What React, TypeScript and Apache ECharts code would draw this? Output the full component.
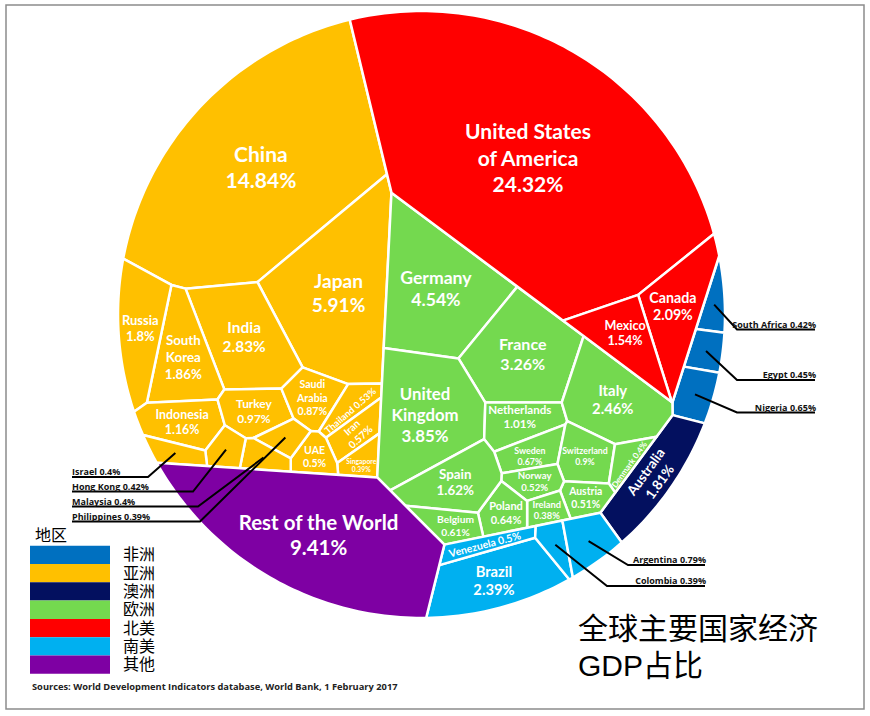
import React, { useEffect, useRef } from 'react';
import * as echarts from 'echarts';

type Pt = [number, number];

// ---------------- data ----------------
const REGION_NAMES = ['非洲', '亚洲', '澳洲', '欧洲', '北美', '南美', '其他'];
const REGION_COLORS = ['#0070C0', '#FFC000', '#03105F', '#74D94F', '#FF0000', '#00B0F0', '#7E00A3'];

const AFRICA_COUNTRIES = ['South Africa', 'Egypt', 'Nigeria'];
const AFRICA_GDP = [0.42, 0.45, 0.65];

const ASIA_COUNTRIES = ['China', 'Japan', 'India', 'South\nKorea', 'Russia', 'Indonesia', 'Turkey', 'Saudi\nArabia',
  'Thailand', 'Iran', 'Singapore', 'UAE', 'Philippines', 'Malaysia', 'Hong Kong', 'Israel'];
const ASIA_GDP = [14.84, 5.91, 2.83, 1.86, 1.8, 1.16, 0.97, 0.87, 0.53, 0.57, 0.39, 0.5, 0.39, 0.4, 0.42, 0.4];

const OCEANIA_COUNTRIES = ['Australia'];
const OCEANIA_GDP = [1.81];

const EUROPE_COUNTRIES = ['Germany', 'France', 'United\nKingdom', 'Netherlands', 'Italy', 'Sweden', 'Switzerland',
  'Denmark', 'Austria', 'Norway', 'Ireland', 'Poland', 'Spain', 'Belgium'];
const EUROPE_GDP = [4.54, 3.26, 3.85, 1.01, 2.46, 0.67, 0.9, 0.4, 0.51, 0.52, 0.38, 0.64, 1.62, 0.61];

const NORTH_AMERICA_COUNTRIES = ['United States\nof America', 'Canada', 'Mexico'];
const NORTH_AMERICA_GDP = [24.32, 2.09, 1.54];

const SOUTH_AMERICA_COUNTRIES = ['Brazil', 'Venezuela', 'Colombia', 'Argentina'];
const SOUTH_AMERICA_GDP = [2.39, 0.5, 0.39, 0.79];

const OTHER_COUNTRIES = ['Rest of the World'];
const OTHER_GDP = [9.41];

const REGION_COUNTRIES = [AFRICA_COUNTRIES, ASIA_COUNTRIES, OCEANIA_COUNTRIES, EUROPE_COUNTRIES,
  NORTH_AMERICA_COUNTRIES, SOUTH_AMERICA_COUNTRIES, OTHER_COUNTRIES];
const REGION_GDP = [AFRICA_GDP, ASIA_GDP, OCEANIA_GDP, EUROPE_GDP, NORTH_AMERICA_GDP, SOUTH_AMERICA_GDP, OTHER_GDP];

const SOURCE_TEXT = 'Sources: World Development Indicators database, World Bank, 1 February 2017';
const TITLE_TEXT = '全球主要国家经济\nGDP占比';
const LEGEND_TITLE = '地区';

// ---------------- layout hints (generators of the power diagram, page pixels) ----------------
const REGION_SITES: Pt[] = [[666, 297], [200, 290], [623, 465], [400, 300], [453, 229], [458, 583], [185, 515]];
const COUNTRY_SITES: Pt[][] = [
  [[712, 300], [705, 355], [698, 395]],
  [[240, 170], [340, 290], [255, 335], [190, 360], [142, 350], [193, 423], [256, 405], [305, 385],
    [342, 408], [358, 430], [372, 450], [300, 456], [270, 434], [258, 456], [228, 450], [185, 455]],
  [[650, 480]],
  [[437, 296], [515, 360], [420, 418], [515, 421], [612, 392], [525, 447], [580, 458],
    [625, 465], [578, 498], [530, 477], [541, 512], [503, 512], [450, 473], [445, 525]],
  [[545, 150], [680, 318], [610, 340]],
  [[500, 590], [486, 541], [555, 545], [593, 538]],
  [[320, 540]],
];

const CALLOUTS = [
  { name: 'Israel', side: 'left', x1: 72, x2: 148, y: 477 },
  { name: 'Hong Kong', side: 'left', x1: 72, x2: 193, y: 491.5 },
  { name: 'Malaysia', side: 'left', x1: 72, x2: 198, y: 506.5 },
  { name: 'Philippines', side: 'left', x1: 72, x2: 200, y: 521.5 },
  { name: 'South Africa', side: 'right', x1: 737, x2: 815, y: 329.5 },
  { name: 'Egypt', side: 'right', x1: 737, x2: 815, y: 380 },
  { name: 'Nigeria', side: 'right', x1: 737, x2: 815, y: 412.5 },
  { name: 'Argentina', side: 'right', x1: 628, x2: 705, y: 565 },
  { name: 'Colombia', side: 'right', x1: 607, x2: 705, y: 586 },
];
const CALLOUT_NAMES = CALLOUTS.map((c) => c.name);

// circle frame of the diagram in page pixels
const CX = 421.5, CY = 314.5, RAD = 303.5;
const toUnit = (p: Pt): Pt => [(p[0] - CX) / RAD, (CY - p[1]) / RAD];

const LABEL_FONT = 'Lato';
const CJK_FONT = "'Liberation Sans', 'Noto Sans CJK SC'";
const LH = 1.25;

// ---------------- power diagram ----------------
function clip(poly: Pt[], a: number, b: number, c: number): Pt[] {
  const out: Pt[] = [];
  const n = poly.length;
  for (let i = 0; i < n; i++) {
    const P = poly[i], Q = poly[(i + 1) % n];
    const fp = a * P[0] + b * P[1] - c, fq = a * Q[0] + b * Q[1] - c;
    if (fp <= 0) out.push(P);
    if ((fp <= 0) !== (fq <= 0)) {
      const t = fp / (fp - fq);
      out.push([P[0] + t * (Q[0] - P[0]), P[1] + t * (Q[1] - P[1])]);
    }
  }
  return out;
}
function signedArea(poly: number[][]) {
  let s = 0;
  for (let i = 0; i < poly.length; i++) {
    const P = poly[i], Q = poly[(i + 1) % poly.length];
    s += P[0] * Q[1] - Q[0] * P[1];
  }
  return s / 2;
}
const area = (poly: number[][]) => Math.abs(signedArea(poly));
function centroid(poly: number[][]) {
  let s = 0, cx = 0, cy = 0;
  for (let i = 0; i < poly.length; i++) {
    const P = poly[i], Q = poly[(i + 1) % poly.length];
    const cr = P[0] * Q[1] - Q[0] * P[1];
    s += cr; cx += (P[0] + Q[0]) * cr; cy += (P[1] + Q[1]) * cr;
  }
  if (Math.abs(s) < 1e-12) return poly.length ? [poly[0][0], poly[0][1]] : [0, 0];
  return [cx / (3 * s), cy / (3 * s)];
}
function cellsFor(sites: Pt[], w: number[], parent: Pt[]) {
  const n = sites.length;
  const out: Pt[][] = [];
  for (let i = 0; i < n; i++) {
    let poly = parent;
    const [xi, yi] = sites[i];
    const si = xi * xi + yi * yi;
    for (let j = 0; j < n && poly.length; j++) {
      if (j === i) continue;
      const [xj, yj] = sites[j];
      poly = clip(poly, 2 * (xj - xi), 2 * (yj - yi), xj * xj + yj * yj - si - w[j] + w[i]);
    }
    out.push(poly);
  }
  return out;
}
function hDiag(i: number, poly: Pt[], sites: Pt[], w: number[]) {
  let h = 0;
  const [xi, yi] = sites[i];
  const si = xi * xi + yi * yi;
  for (let j = 0; j < sites.length; j++) {
    if (j === i) continue;
    const [xj, yj] = sites[j];
    const a = 2 * (xj - xi), b = 2 * (yj - yi), c = xj * xj + yj * yj - si - w[j] + w[i];
    const nn = Math.hypot(a, b);
    if (nn < 1e-12) continue;
    for (let k = 0; k < poly.length; k++) {
      const P = poly[k], Q = poly[(k + 1) % poly.length];
      if (Math.abs(a * P[0] + b * P[1] - c) / nn < 1e-8 && Math.abs(a * Q[0] + b * Q[1] - c) / nn < 1e-8) {
        h += Math.hypot(Q[0] - P[0], Q[1] - P[1]) / nn;
      }
    }
  }
  return h;
}
function solvePower(sites: Pt[], values: number[], parent: Pt[], maxIter = 3000): Pt[][] {
  const n = sites.length;
  if (n === 1) return [parent];
  const tot = area(parent);
  const vs = values.reduce((a, b) => a + b, 0);
  const T = values.map((v) => (v / vs) * tot);
  const w = new Array(n).fill(0);
  let damp = 0.5;
  let prevErr = Infinity;
  let cells = cellsFor(sites, w, parent);
  for (let it = 0; it < maxIter; it++) {
    let errSum = 0, maxRel = 0;
    const upd = new Array(n).fill(0);
    for (let i = 0; i < n; i++) {
      const A = cells[i].length >= 3 ? area(cells[i]) : 0;
      const err = T[i] - A;
      errSum += Math.abs(err);
      maxRel = Math.max(maxRel, Math.abs(err) / T[i]);
      const h = cells[i].length >= 3 ? hDiag(i, cells[i], sites, w) : 0;
      upd[i] = h > 1e-9 ? err / h : 0.02;
    }
    if (maxRel < 0.002) break;
    if (errSum > prevErr) damp = Math.max(0.05, damp * 0.7);
    else damp = Math.min(0.8, damp * 1.05);
    prevErr = errSum;
    for (let i = 0; i < n; i++) w[i] += (cells[i].length >= 3 ? damp : 1) * upd[i];
    cells = cellsFor(sites, w, parent);
  }
  return cells;
}

function buildLayout() {
  const circle: Pt[] = [];
  const N = 360;
  for (let k = 0; k < N; k++) circle.push([Math.cos((2 * Math.PI * k) / N), Math.sin((2 * Math.PI * k) / N)]);
  const totals = REGION_GDP.map((a) => a.reduce((s, v) => s + v, 0));
  const regionCells = solvePower(REGION_SITES.map(toUnit), totals, circle);
  return REGION_GDP.map((vals, r) => {
    const polys = solvePower(COUNTRY_SITES[r].map(toUnit), vals, regionCells[r]);
    return polys.map((poly) => ({ poly, c: centroid(poly) }));
  });
}

// ---------------- label helpers ----------------
const CW: Record<string, number> = {
  a: 0.51, b: 0.56, c: 0.46, d: 0.56, e: 0.52, f: 0.33, g: 0.5, h: 0.56, i: 0.25, j: 0.25, k: 0.52, l: 0.25,
  m: 0.84, n: 0.56, o: 0.56, p: 0.56, q: 0.56, r: 0.38, s: 0.42, t: 0.36, u: 0.56, v: 0.5, w: 0.76, x: 0.5,
  y: 0.5, z: 0.45, ' ': 0.2, '.': 0.24, '%': 0.82,
};
function emWidth(s: string) {
  let w = 0;
  for (const ch of s) {
    if (CW[ch] !== undefined) w += CW[ch];
    else if (/[0-9]/.test(ch)) w += 0.58;
    else if (ch === 'M' || ch === 'W') w += 0.86;
    else if (ch === 'I') w += 0.3;
    else if (/[A-Z]/.test(ch)) w += 0.66;
    else w += 0.55;
  }
  return w * 1.03;
}
function edgesOf(pts: number[][], sgn: number) {
  const out: number[][] = [];
  for (let k = 0; k < pts.length; k++) {
    const P = pts[k], Q = pts[(k + 1) % pts.length];
    const ex = Q[0] - P[0], ey = Q[1] - P[1];
    const len = Math.hypot(ex, ey);
    if (len < 1e-6) continue;
    const nx = (-ey / len) * sgn, ny = (ex / len) * sgn;
    out.push([nx, ny, nx * P[0] + ny * P[1]]);
  }
  return out;
}
function minDist(p: number[], edges: number[][]) {
  let m = Infinity;
  for (const e of edges) m = Math.min(m, e[0] * p[0] + e[1] * p[1] - e[2]);
  return m;
}
function boxFits(c: number[], ang: number, hw: number, hh: number, edges: number[][]) {
  const ca = Math.cos(ang), sa = Math.sin(ang);
  for (const [sx, sy] of [[-1, -1], [1, -1], [1, 1], [-1, 1]]) {
    const p = [c[0] + ca * sx * hw - sa * sy * hh, c[1] + sa * sx * hw + ca * sy * hh];
    if (minDist(p, edges) < 0.3) return false;
  }
  return true;
}
function maxFont(c: number[], ang: number, lines: string[], base: number, edges: number[][]) {
  const wEm = Math.max(...lines.map(emWidth));
  const hEm = LH * (lines.length - 1) + 0.95;
  const ok = (f: number) => boxFits(c, ang, (f * wEm) / 2, (f * hEm) / 2, edges);
  if (ok(base)) return base;
  let lo = 4, hi = base;
  if (!ok(lo)) return 0;
  for (let it = 0; it < 10; it++) {
    const m = (lo + hi) / 2;
    if (ok(m)) lo = m; else hi = m;
  }
  return lo;
}
function cellLabel(pts: number[][], name: string, value: number) {
  const c = centroid(pts);
  const sA = signedArea(pts);
  if (Math.abs(sA) < 1) return null;
  const sgn = sA > 0 ? 1 : -1;
  const edges = edgesOf(pts, sgn);
  let ixx = 0, iyy = 0, ixy = 0;
  for (let k = 0; k < pts.length; k++) {
    const P = pts[k], Q = pts[(k + 1) % pts.length];
    const ux = P[0] - c[0], uy = P[1] - c[1], vx = Q[0] - c[0], vy = Q[1] - c[1];
    const a = (ux * vy - vx * uy) / 2;
    ixx += (a / 6) * (ux * ux + ux * vx + vx * vx);
    iyy += (a / 6) * (uy * uy + uy * vy + vy * vy);
    ixy += (a / 12) * (2 * ux * uy + ux * vy + vx * uy + 2 * vx * vy);
  }
  ixx /= sA; iyy /= sA; ixy /= sA;
  const mid = (ixx + iyy) / 2, dd = Math.sqrt(((ixx - iyy) / 2) ** 2 + ixy * ixy);
  const elong = Math.sqrt((mid + dd) / Math.max(mid - dd, 1e-9));
  let theta = 0.5 * Math.atan2(2 * ixy, ixx - iyy);
  if (theta > Math.PI / 2) theta -= Math.PI;
  if (theta <= -Math.PI / 2) theta += Math.PI;
  const pct = value + '%';
  const base = Math.min(21, 7 + 5 * Math.sqrt(value));
  const multi = [...name.split('\n'), pct];
  const single = [name.replace(/\n/g, ' ') + ' ' + pct];

  let x0 = Infinity, x1 = -Infinity, y0 = Infinity, y1 = -Infinity;
  for (const p of pts) { x0 = Math.min(x0, p[0]); x1 = Math.max(x1, p[0]); y0 = Math.min(y0, p[1]); y1 = Math.max(y1, p[1]); }
  const cands: number[][] = [c];
  const G = 14;
  for (let i = 0; i <= G; i++) for (let j = 0; j <= G; j++) {
    const p = [x0 + ((x1 - x0) * i) / G, y0 + ((y1 - y0) * j) / G];
    if (minDist(p, edges) > 2) cands.push(p);
  }
  const deg = (Math.abs(theta) * 180) / Math.PI;
  const evalAt = (ang: number) => {
    let best = { f: 0, p: c, lines: multi, d: Infinity };
    const results: { f: number; p: number[]; lines: string[]; d: number }[] = [];
    for (const p of cands) {
      const fm = maxFont(p, ang, multi, base, edges);
      const fs = maxFont(p, ang, single, base, edges);
      const r = fs > fm * 1.15 ? { f: fs, lines: single } : { f: fm, lines: multi };
      results.push({ ...r, p, d: Math.hypot(p[0] - c[0], p[1] - c[1]) });
    }
    const fmax = Math.max(...results.map((r) => r.f));
    for (const r of results) {
      if (r.f >= fmax * 0.93 && r.d < best.d) best = r;
    }
    return best;
  };
  let best = evalAt(0);
  let ang = 0;
  if (elong > 1.8 && deg > 12 && deg < 72) {
    const rot = evalAt(theta);
    if (rot.f > best.f * 1.3) { best = rot; ang = theta; }
  }
  const f = Math.max(6, best.f);
  return {
    type: 'text',
    x: best.p[0], y: best.p[1],
    rotation: -ang,
    silent: true,
    style: {
      text: best.lines.join('\n'), fill: '#fff', fontSize: f, fontWeight: 'bold', fontFamily: LABEL_FONT,
      align: 'center', verticalAlign: 'middle', lineHeight: f * LH,
    },
  };
}

export default function App() {
  const ref = useRef<HTMLDivElement>(null);
  useEffect(() => {
    if (!ref.current) return;
    const chart = echarts.init(ref.current, null, { renderer: 'svg' });
    const cells = buildLayout();
    const cellSeries = REGION_NAMES.map((rn, r) => ({
      type: 'custom',
      name: rn,
      coordinateSystem: 'cartesian2d',
      itemStyle: { color: REGION_COLORS[r] },
      z: 2,
      data: REGION_COUNTRIES[r].map((n, i) => ({ name: n, value: [cells[r][i].c[0], cells[r][i].c[1], REGION_GDP[r][i]] })),
      renderItem: (params: any, api: any) => {
        const i = params.dataIndex;
        const cell = cells[r][i];
        if (!cell || cell.poly.length < 3) return { type: 'group', children: [] };
        const pts = cell.poly.map((p) => api.coord(p));
        const children: any[] = [{
          type: 'polygon', shape: { points: pts },
          style: { fill: REGION_COLORS[r], stroke: '#ffffff', lineWidth: 2.5, lineJoin: 'round' },
        }];
        const name = REGION_COUNTRIES[r][i];
        if (!CALLOUT_NAMES.includes(name)) {
          const lab = cellLabel(pts, name, REGION_GDP[r][i]);
          if (lab) children.push(lab);
        }
        return { type: 'group', children };
      },
    }));
    const findCell = (name: string) => {
      for (let r = 0; r < REGION_COUNTRIES.length; r++) {
        const i = REGION_COUNTRIES[r].indexOf(name);
        if (i >= 0) return { r, i };
      }
      return null;
    };
    const calloutSeries = {
      type: 'custom',
      name: 'callouts',
      coordinateSystem: 'cartesian2d',
      z: 5,
      data: CALLOUTS.map((co) => {
        const f = findCell(co.name)!;
        return { name: co.name, value: [cells[f.r][f.i].c[0], cells[f.r][f.i].c[1], REGION_GDP[f.r][f.i]] };
      }),
      renderItem: (params: any, api: any) => {
        const co = CALLOUTS[params.dataIndex];
        const f = findCell(co.name)!;
        const v = REGION_GDP[f.r][f.i];
        const start = api.coord(cells[f.r][f.i].c);
        const elbowX = co.side === 'left' ? co.x2 : co.x1;
        const endX = co.side === 'left' ? co.x1 : co.x2;
        return {
          type: 'group',
          children: [
            { type: 'polyline', shape: { points: [start, [elbowX, co.y], [endX, co.y]] }, style: { stroke: '#000', lineWidth: 2, fill: null } },
            {
              type: 'text', x: co.side === 'left' ? co.x1 : co.x2 + 1, y: co.y - 5.5,
              style: {
                text: co.name + ' ' + v + '%', fill: '#111', fontSize: 9, fontWeight: 'bold', fontFamily: 'Open Sans',
                align: co.side === 'left' ? 'left' : 'right', verticalAlign: 'middle',
              },
            },
          ],
        };
      },
    };
    chart.setOption({
      animation: false,
      backgroundColor: '#ffffff',
      grid: { left: CX - RAD, top: CY - RAD, width: 2 * RAD, height: 2 * RAD, containLabel: false },
      xAxis: { type: 'value', min: -1, max: 1, show: false },
      yAxis: { type: 'value', min: -1, max: 1, show: false },
      title: {
        text: TITLE_TEXT, left: 578, top: 609.5, padding: 0,
        textStyle: { fontSize: 30, fontWeight: 'normal', fontFamily: CJK_FONT, color: '#000', lineHeight: 37 },
      },
      legend: {
        data: REGION_NAMES, orient: 'vertical', left: 30, top: 545.7, padding: 0, itemGap: 0,
        itemWidth: 80, itemHeight: 18.3, icon: 'rect', selectedMode: false,
        textStyle: { fontSize: 16, fontFamily: CJK_FONT, color: '#000', padding: [0, 0, 0, 8], lineHeight: 18.3 },
      },
      graphic: [
        { type: 'rect', silent: true, shape: { x: 6, y: 5, width: 858, height: 704 }, style: { fill: 'none', stroke: '#8c8c8c', lineWidth: 1.5 } },
        { type: 'text', silent: true, x: 35, y: 535, style: { text: LEGEND_TITLE, fontSize: 16, fontFamily: CJK_FONT, fill: '#000', verticalAlign: 'middle' } },
        { type: 'text', silent: true, x: 32, y: 686, style: { text: SOURCE_TEXT, fontSize: 9.3, fontWeight: 'bold', fontFamily: 'Open Sans', fill: '#222', verticalAlign: 'middle' } },
      ],
      series: [...cellSeries, calloutSeries],
    });
    return () => chart.dispose();
  }, []);
  return <div ref={ref} style={{ position: 'absolute', left: 0, top: 0, width: 870, height: 716, background: '#fff' }} />;
}
